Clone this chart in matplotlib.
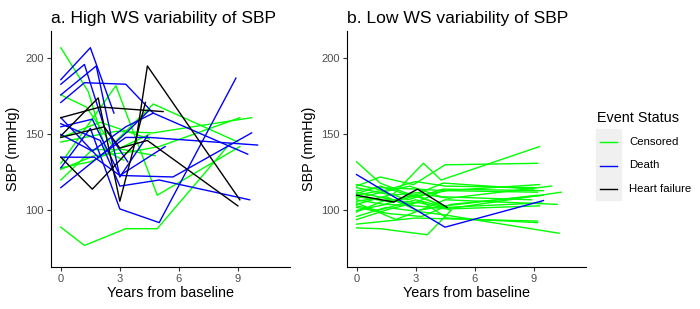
import matplotlib
matplotlib.use("Agg")
import matplotlib.pyplot as plt
from matplotlib.patches import Rectangle
from matplotlib.lines import Line2D

plt.rcParams['font.family'] = ['Liberation Sans', 'DejaVu Sans']

colors = {"Censored": "#00FF00", "Death": "#0000FF", "Heart failure": "#000000"}
status_labels = ["Censored", "Death", "Heart failure"]

# ---- panel a: high within-subject variability
high_years = [
    [0, 2.8, 4.9, 9.1], [0, 1.2, 3.3, 4.9, 8.6], [0, 2.8, 4.7, 9.7],
    [0, 1.7, 3.3, 5.0, 9.1], [0, 1.3, 2.6, 4.7, 9.0], [0, 1.6, 3.2, 4.8],
    [0, 1.5, 3.0, 4.5], [0, 2.0, 4.5], [0, 1.4, 2.3, 3.2],
    [0, 1.5, 2.7], [0, 1.8, 3.0, 4.4], [0, 1.2, 3.3, 4.7],
    [0, 1.7, 3.0, 5.7, 9.7], [0, 1.5, 3.0, 5.0, 8.9], [0, 2.0, 3.0, 5.0, 9.6],
    [0, 1.9, 3.3, 4.5, 10.0], [0, 1.6, 3.3, 4.7, 9.5], [0, 2.2, 3.4, 4.5],
    [0, 1.6, 3.0, 5.3], [0, 1.2, 2.2, 3.4],
    [0, 2.0, 5.2], [0, 1.9, 3.0, 4.3], [0, 1.6, 3.0, 3.8, 4.4, 9.1],
    [0, 2.2, 3.0, 4.4, 9.0],
]
high_sbp = [
    [131, 182, 110, 142], [89, 77, 88, 88, 144], [145, 152, 151, 161],
    [127, 136, 138, 142, 161], [176, 168, 143, 170, 145], [120, 140, 140, 136],
    [128, 132, 141, 150], [148, 158, 147], [207, 178, 139, 133],
    [186, 207, 164], [176, 195, 122, 149], [171, 184, 183, 164],
    [135, 135, 123, 122, 151], [128, 154, 101, 92, 187], [157, 146, 116, 120, 107],
    [161, 135, 148, 148, 143], [150, 139, 155, 164, 137], [115, 138, 152, 166],
    [155, 160, 123, 142], [183, 196, 155, 132],
    [161, 168, 165], [149, 174, 106, 171], [135, 114, 133, 144, 195, 107],
    [148, 155, 141, 146, 103],
]
high_status = ["Censored"] * 9 + ["Death"] * 11 + ["Heart failure"] * 4

# ---- panel b: low within-subject variability
low_years = [
    [0, 4.5, 9.5], [0, 1.9, 3.1, 4.6],
    [0, 1.2, 2.4, 4.5], [0, 1.9, 3.4, 4.3, 9.3], [0, 1.2, 2.9, 4.5, 9.2],
    [0, 1.2, 3.6, 4.8], [0, 3.0, 9.2], [0, 1.5, 4.5, 10.3],
    [0, 1.5, 3.0, 4.6, 10.4], [0, 1.2, 3.1, 4.5, 9.3], [0, 1.6, 3.2, 4.7, 9.9],
    [0, 1.5, 3.1, 4.5, 9.2], [0, 1.1, 3.0, 4.6, 9.4], [0, 1.8, 3.3, 4.4, 9.0],
    [0, 1.2, 2.9, 4.6, 9.2], [0, 2.0, 3.4, 4.5, 10.2], [0, 1.5, 3.2, 4.7, 9.3],
    [0, 1.4, 3.0, 4.5, 9.1], [0, 1.3, 2.7, 4.3, 8.9], [0, 1.6, 3.3, 4.8, 9.5],
    [0, 1.7, 3.3, 4.6, 9.2], [0, 1.1, 2.8, 4.2], [0, 1.4, 3.1, 4.8],
    [0, 1.2, 2.6, 4.4, 9.5],
]
low_sbp = [
    [123.6, 89, 106.5], [110, 105.5, 114, 102],
    [132, 118, 112, 103], [104, 111, 131, 120, 142], [116, 122, 117, 130, 131],
    [88.5, 88, 84, 100], [91, 95, 93], [96, 102, 97, 85],
    [100, 104, 103, 101, 112], [113, 115, 114, 113, 117], [109, 106, 111, 108, 116],
    [106, 109, 100, 103, 110], [103, 100, 107, 102, 105], [115, 110, 112, 118, 114],
    [111, 116, 109, 113, 112], [105, 94, 101, 107, 104], [99, 107, 105, 101, 103],
    [117, 113, 119, 116, 115], [108, 112, 116, 109, 107], [102, 98, 96, 104, 110],
    [94, 101, 106, 95, 92], [112, 109, 104, 112], [107, 104, 110, 100],
    [110, 113, 107, 114, 113],
]
low_status = ["Death", "Heart failure"] + ["Censored"] * 22

x_ticks = [0, 3, 6, 9]
y_ticks = [100, 150, 200]

fig = plt.figure(figsize=(7, 3.09), dpi=100)
ax1 = fig.add_axes([51 / 700, 1 - 266.7 / 309, 239 / 700, 235.7 / 309])
ax2 = fig.add_axes([346.7 / 700, 1 - 266.7 / 309, 239 / 700, 235.7 / 309])


def draw_panel(ax, years, sbp, status, title):
    # censored first so the event lines sit on top
    order = sorted(range(len(status)), key=lambda i: status_labels.index(status[i]))
    for i in order:
        ax.plot(years[i], sbp[i], color=colors[status[i]], lw=1.0)
    ax.set_xlim(-0.5, 11.65)
    ax.set_ylim(63, 218)
    ax.set_xticks(x_ticks)
    ax.set_yticks(y_ticks)
    for s in ["top", "right"]:
        ax.spines[s].set_visible(False)
    for s in ["left", "bottom"]:
        ax.spines[s].set_linewidth(0.8)
    ax.tick_params(length=3, width=0.8, color="#333333", labelcolor="#4D4D4D",
                   labelsize=8, pad=2)
    ax.set_xlabel("Years from baseline", fontsize=10.4, labelpad=2)
    ax.set_ylabel("SBP (mmHg)", fontsize=10.4, labelpad=4)
    ax.set_title(title, fontsize=12.6, loc="left", pad=6)


draw_panel(ax1, high_years, high_sbp, high_status, "a. High WS variability of SBP")
draw_panel(ax2, low_years, low_sbp, low_status, "b. Low WS variability of SBP")

# legend
fig.text(597 / 700, 1 - 122 / 309, "Event Status", fontsize=10.4, va="baseline")
fig.patches.append(Rectangle((596 / 700, 1 - 200 / 309), 25 / 700, 71 / 309,
                             transform=fig.transFigure, color="#F0F0F0", zorder=0))
for k, lab in enumerate(status_labels):
    yk = 1 - (141.7 + k * 23.8) / 309
    fig.lines.append(Line2D([600 / 700, 617 / 700], [yk, yk], transform=fig.transFigure,
                            color=colors[lab], lw=1.0))
    fig.text(629 / 700, yk, lab, fontsize=8.2, va="center")

fig.savefig("out.png", dpi=100)
